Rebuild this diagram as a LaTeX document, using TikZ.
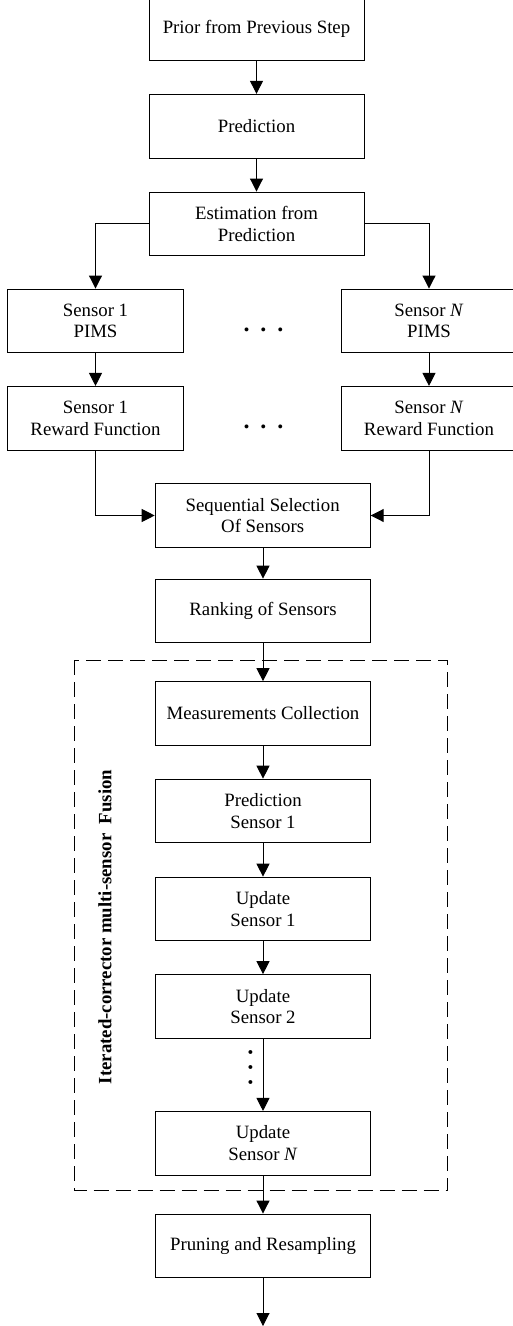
\documentclass[tikz,border=0pt]{standalone}
\usepackage{fontspec}
\setmainfont{Liberation Serif}
\usepackage{tikz}
\usetikzlibrary{arrows.meta, positioning, shapes}

\begin{document}
\begin{tikzpicture}[x=0.5pt,y=-0.5pt,
        font=\fontsize{9.4}{10.8}\selectfont,
        box/.style={draw,line width=0.5pt,minimum width=107.5pt,minimum height=31.85pt,inner sep=1pt,align=center},
        sbox/.style={box,minimum width=88pt},
        arr/.style={line width=0.5pt,-{Triangle[length=6.5pt,width=6.5pt]}}]
        \useasboundingbox (0,0) rectangle (513,1326);
        % top chain
        \node[box] (prior) at (256.5,29){Prior from Previous Step};
        \node[box] (pred) at (256.5,126.2){Prediction};
        \node[box] (est) at (256.5,223.9){Estimation from\\Prediction};
        % sensors
        \node[sbox] (s1pims) at (95.5,320.9){Sensor 1\\PIMS};
        \node[sbox] (snpims) at (429,320.9){Sensor \textit{N}\\PIMS};
        \node[sbox] (s1rew) at (95.5,418.3){Sensor 1\\Reward Function};
        \node[sbox] (snrew) at (429,418.3){Sensor \textit{N}\\Reward Function};
        \node[anchor=base,inner sep=0pt,font=\fontsize{12}{12}\selectfont\bfseries] (dotsa) at (263.5,331){.\hspace{5.5pt}.\hspace{5.5pt}.};
        \node[anchor=base,inner sep=0pt,font=\fontsize{12}{12}\selectfont\bfseries] (dotsb) at (263.5,428.7){.\hspace{5.5pt}.\hspace{5.5pt}.};
        \node[box] (seq) at (262.7,515.5){Sequential Selection\\Of Sensors};
        \node[box] (rank) at (263,611){Ranking of Sensors};
        % fusion block
        \draw[line width=0.5pt,dash pattern=on 7.5pt off 3.5pt] (74.3,660) rectangle (447.7,1190.7);
        \node[rotate=90,font=\fontsize{9.4}{10.8}\selectfont\bfseries] (fuslabel) at (105,927){Iterated-corrector multi-sensor\ \ Fusion};
        \node[box] (meas) at (263,713.5){Measurements Collection};
        \node[box] (preds1) at (263,811){Prediction\\Sensor 1};
        \node[box] (upd1) at (263,909){Update\\Sensor 1};
        \node[box] (upd2) at (263,1006.5){Update\\Sensor 2};
        \node[rotate=90,inner sep=0pt,font=\fontsize{12}{12}\selectfont\bfseries] (dotsc) at (250.5,1067.3){.\hspace{4.6pt}.\hspace{4.6pt}.};
        \node[box] (updn) at (263,1143.3){Update\\Sensor \textit{N}};
        \node[box] (prune) at (263,1245.9){Pruning and Resampling};
        \coordinate (out) at (263,1326);
        % connectors
        \draw[arr] (prior) -- (pred);
        \draw[arr] (pred) -- (est);
        \draw[arr] (est.west) -| (s1pims.north);
        \draw[arr] (est.east) -| (snpims.north);
        \draw[arr] (s1pims) -- (s1rew);
        \draw[arr] (snpims) -- (snrew);
        \draw[arr] (s1rew.south) |- (seq.west);
        \draw[arr] (snrew.south) |- (seq.east);
        \draw[arr] (seq.south -| rank) -- (rank);
        \draw[arr] (rank) -- (meas);
        \draw[arr] (meas) -- (preds1);
        \draw[arr] (preds1) -- (upd1);
        \draw[arr] (upd1) -- (upd2);
        \draw[arr] (upd2) -- (updn);
        \draw[arr] (updn) -- (prune);
        \draw[arr] (prune) -- (out);
    \end{tikzpicture}
\end{document}
